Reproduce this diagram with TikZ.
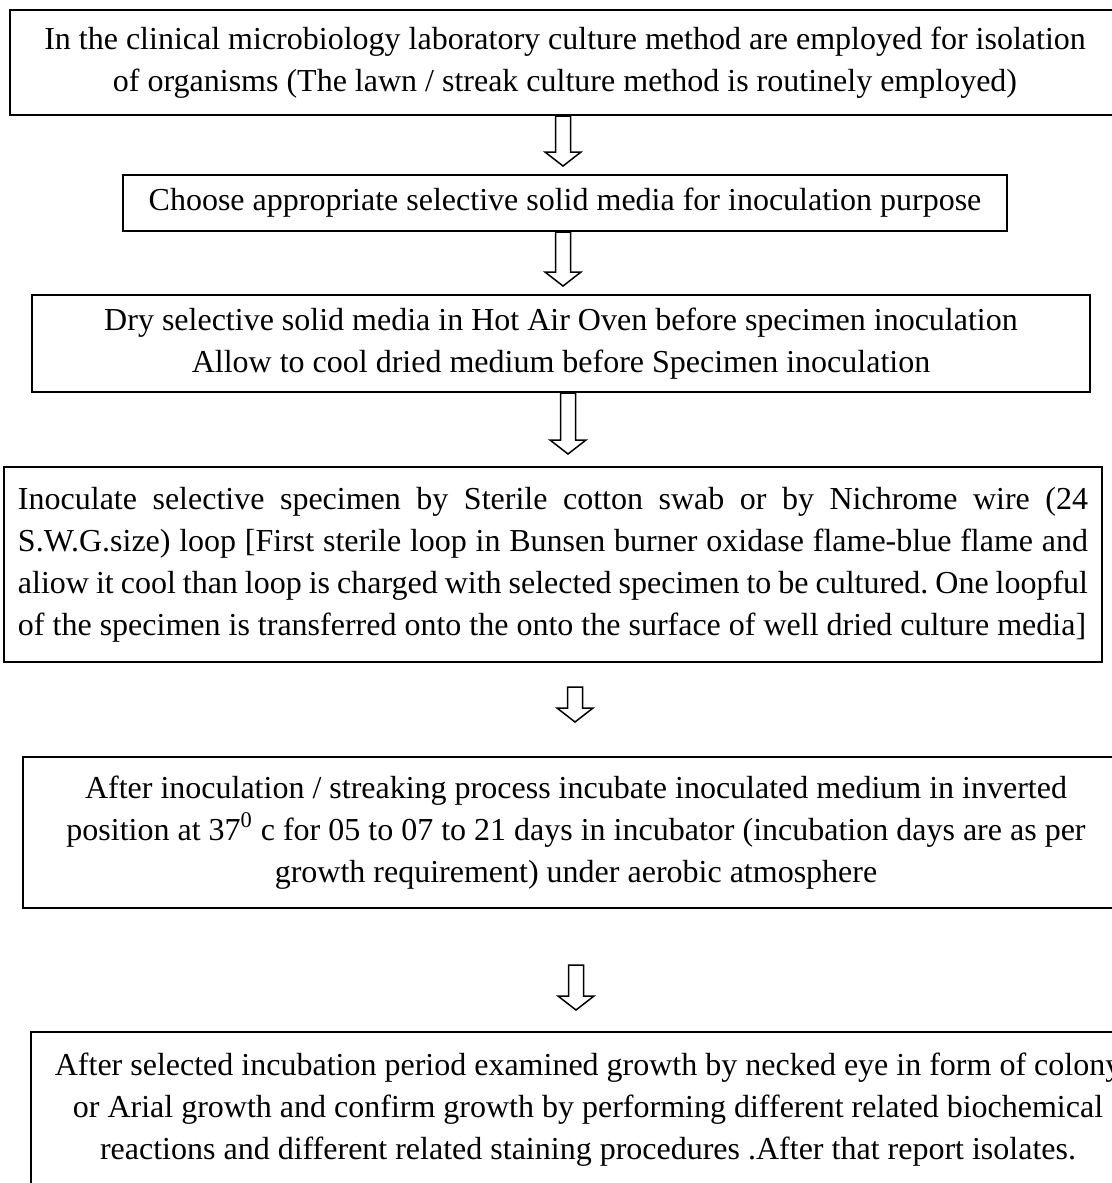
\documentclass[tikz,border=0pt]{standalone}
\usepackage{fontspec}
\setmainfont{Liberation Serif}
\usetikzlibrary{calc}
\frenchspacing

\begin{document}
\begin{tikzpicture}[
    x=0.5pt, y=-0.5pt,
    box/.style={draw, rectangle, line width=1pt, align=center, inner sep=0pt, font=\fontsize{16pt}{21pt}\selectfont},
    blockarrow/.style={line width=0.75pt, to path={let \p1=(\tikztostart), \p2=(\tikztotarget) in
        (\x1-3.75pt,\y1) -- (\x1-3.75pt,\y2+7pt) -- (\x1-9pt,\y2+7pt) -- (\x1,\y2) -- (\x1+9pt,\y2+7pt) -- (\x1+3.75pt,\y2+7pt) -- (\x1+3.75pt,\y1) -- cycle}}
]
\useasboundingbox (0,0) rectangle (1112,1183);

\node (culture) [box, minimum width=555pt, minimum height=52.5pt] at (565,62.5) {In the clinical microbiology laboratory culture method are employed for isolation\\ of organisms (The lawn / streak culture method is routinely employed)};
\node (media) [box, minimum width=442pt, minimum height=28pt] at (565,203) {Choose appropriate selective solid media for inoculation purpose};
\node (dry) [box, minimum width=529pt, minimum height=48.5pt] at (561,343.5) {Dry selective solid media in Hot Air Oven before specimen inoculation\\ Allow to cool dried medium before Specimen inoculation};
\node (inoc) [box, align=justify, text width=535pt, minimum width=549pt, minimum height=97.5pt] at (553,564.5) {\parfillskip=0pt Inoculate selective specimen by Sterile cotton swab or by Nichrome wire (24 \linebreak S.W.G.size) loop [First sterile loop in Bunsen burner oxidase flame-blue flame and \linebreak aliow it cool than loop is charged with selected specimen to be cultured. One loopful \linebreak of the specimen is transferred onto the onto the surface of well dried culture media]};
\node (incub) [box, minimum width=553pt, minimum height=75.5pt] at (576,832.5) {After inoculation / streaking process incubate inoculated medium in inverted\\ position at 37\textsuperscript{0} c for 05 to 07 to 21 days in incubator (incubation days are as per\\ growth requirement) under aerobic atmosphere};
\node (exam) [box, minimum width=557pt, minimum height=78pt] at (588,1110) {After selected incubation period examined growth by necked eye in form of colony\\ or Arial growth and confirm growth by performing different related biochemical\\ reactions and different related staining procedures .After that report isolates.};

\draw [blockarrow] ([xshift=-1pt]culture.south) to ([xshift=-1pt,yshift=4pt]media.north);
\draw [blockarrow] ([xshift=-1pt]media.south) to ([xshift=-1pt,yshift=4pt]dry.north);
\draw [blockarrow] ([xshift=3.5pt]dry.south) to ([xshift=3.5pt,yshift=6pt]inoc.north);
\draw [blockarrow] ([xshift=11pt,yshift=-12pt]inoc.south) to ([xshift=11pt,yshift=17pt]incub.north);
\draw [blockarrow] ([yshift=-28pt]incub.south) to ([yshift=10.5pt]exam.north);
\end{tikzpicture}
\end{document}
